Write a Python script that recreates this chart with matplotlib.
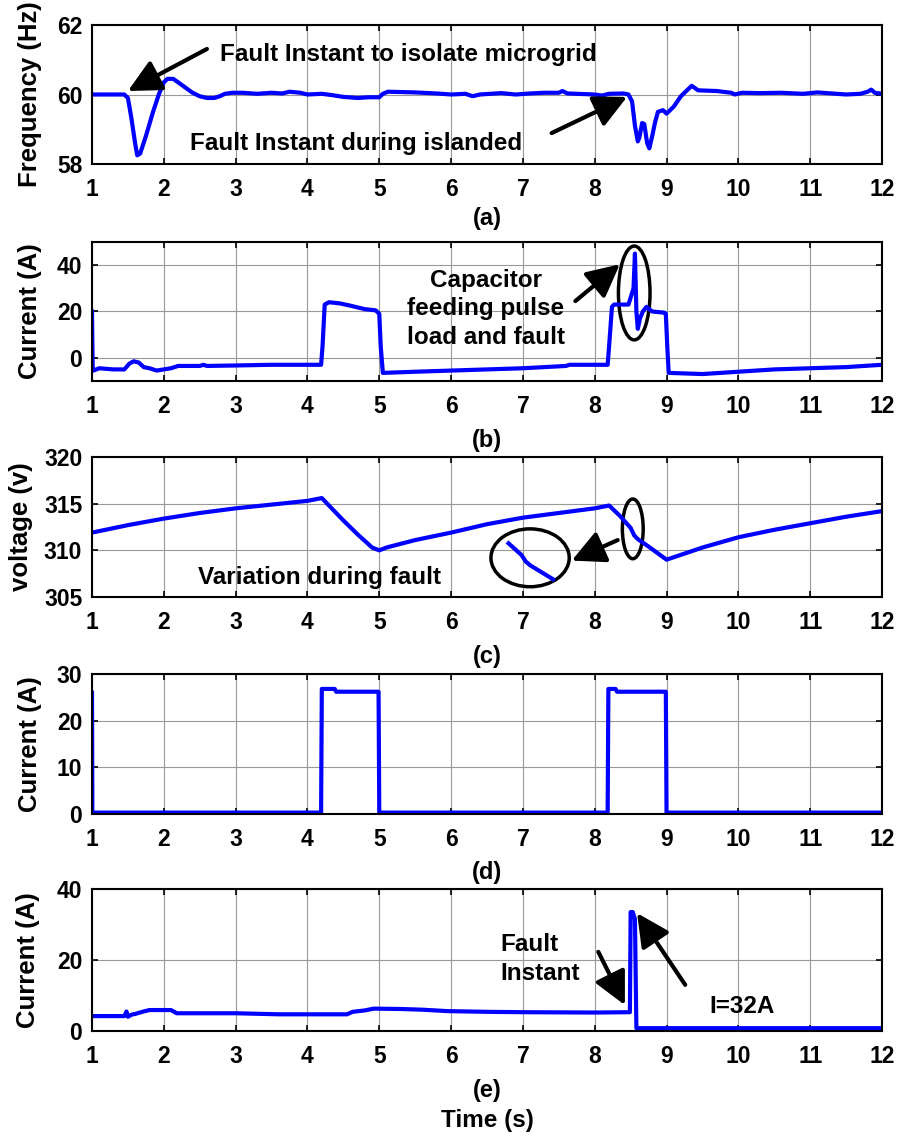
import numpy as np
import matplotlib
matplotlib.use('Agg')
import matplotlib.pyplot as plt
from matplotlib.patches import Ellipse

plt.rcParams['font.family'] = ['Liberation Sans', 'DejaVu Sans']
plt.rcParams['font.weight'] = 'bold'
plt.rcParams['axes.labelweight'] = 'bold'

# (a) frequency
freq_t = [1.0, 1.45, 1.5, 1.55, 1.6, 1.63, 1.67, 1.75, 1.85, 1.93, 2.0, 2.05, 2.13, 2.2, 2.3,
          2.4, 2.5, 2.6, 2.7, 2.78, 2.85, 2.95, 3.1, 3.3, 3.5, 3.65, 3.75, 3.9, 4.0, 4.2, 4.35,
          4.5, 4.7, 4.85, 5.0, 5.05, 5.12, 5.5, 5.8, 6.0, 6.2, 6.3, 6.4, 6.7, 6.9, 7.1, 7.3,
          7.5, 7.55, 7.62, 8.0, 8.1, 8.2, 8.4, 8.47, 8.52, 8.56, 8.6, 8.62, 8.66, 8.69, 8.73,
          8.76, 8.8, 8.84, 8.88, 8.95, 9.0, 9.1, 9.2, 9.3, 9.35, 9.44, 9.7, 9.9, 9.95, 10.05,
          10.3, 10.6, 10.9, 11.1, 11.3, 11.5, 11.7, 11.8, 11.85, 11.9, 12.0]
freq_v = [60.0, 60.0, 59.9, 59.3, 58.6, 58.25, 58.3, 58.8, 59.5, 60.0, 60.35, 60.45, 60.45,
          60.35, 60.2, 60.05, 59.95, 59.9, 59.9, 59.95, 60.02, 60.05, 60.05, 60.02, 60.05,
          60.03, 60.08, 60.05, 60.0, 60.02, 59.98, 59.93, 59.9, 59.92, 59.92, 60.02, 60.08,
          60.06, 60.03, 60.0, 60.02, 59.95, 60.0, 60.04, 60.0, 60.03, 60.05, 60.05, 60.1,
          60.03, 60.0, 59.97, 60.02, 60.03, 60.0, 59.8, 59.1, 58.65, 58.75, 59.18, 59.15,
          58.6, 58.45, 58.8, 59.2, 59.5, 59.55, 59.45, 59.65, 59.95, 60.15, 60.25, 60.12,
          60.1, 60.05, 60.0, 60.05, 60.04, 60.05, 60.02, 60.06, 60.03, 60.0, 60.02, 60.08,
          60.14, 60.05, 60.02]

# (b) capacitor current
cap_t = [1.0, 1.005, 1.01, 1.02, 1.1, 1.3, 1.45, 1.52, 1.58, 1.65, 1.72, 1.8, 1.9, 2.0, 2.1,
         2.2, 2.5, 2.55, 2.6, 3.0, 3.5, 4.0, 4.19, 4.21, 4.24, 4.3, 4.45, 4.6, 4.8, 4.95,
         5.0, 5.02, 5.05, 5.5, 6.0, 7.0, 7.6, 7.65, 8.0, 8.18, 8.2, 8.24, 8.27, 8.4, 8.47,
         8.5, 8.54, 8.56, 8.58, 8.6, 8.63, 8.67, 8.72, 8.76, 8.8, 8.97, 8.99, 9.01, 9.03,
         9.5, 10.0, 10.5, 11.0, 11.5, 12.0]
cap_v = [20, 6, -5, -5.5, -4.5, -5, -5, -2.5, -1.5, -2, -4, -4.5, -5.5, -5, -4.5, -3.5, -3.5,
         -3, -3.5, -3.3, -3, -3, -3, 5, 23, 24, 23.5, 22.5, 21, 20.5, 19, 5, -6.5, -6, -5.5,
         -4.5, -3.5, -3, -3, -3, 5, 22, 23, 23, 23, 26, 30, 45, 20, 12.5, 17, 20, 22, 21,
         20, 19.5, 19, 5, -6.5, -7, -6, -5, -4.5, -4, -3]

# (c) dc-link voltage
volt_t = [1.0, 1.5, 2.0, 2.5, 3.0, 3.5, 4.0, 4.2, 4.3, 4.5, 4.7, 4.9, 5.0, 5.1, 5.5, 6.0,
          6.5, 7.0, 7.5, 8.0, 8.2, 8.35, 8.5, 8.55, 8.6, 8.75, 9.0, 9.5, 10.0, 10.5, 11.0,
          11.5, 12.0]
volt_v = [311.9, 312.7, 313.4, 314.0, 314.5, 314.9, 315.3, 315.6, 314.8, 313.2, 311.7, 310.3,
          310.0, 310.3, 311.1, 311.9, 312.8, 313.5, 314.0, 314.5, 314.8, 313.7, 312.4, 311.6,
          311.2, 310.4, 309.0, 310.3, 311.4, 312.2, 312.9, 313.6, 314.2]
# zoomed piece shown inside the circle
zoom_t = [6.8, 6.98, 7.04, 7.1, 7.42]
zoom_v = [310.75, 309.5, 308.8, 308.4, 306.9]

# (d) pulse load current
pulse_t = [1.0, 1.005, 4.19, 4.2, 4.38, 4.4, 4.99, 5.0, 8.18, 8.19, 8.29, 8.31, 8.99, 9.0, 12.0]
pulse_v = [26, 0.3, 0.3, 26.8, 26.8, 26.2, 26.2, 0.3, 0.3, 26.8, 26.8, 26.2, 26.2, 0.3, 0.3]

# (e) fault current
fault_t = [1.0, 1.45, 1.48, 1.5, 1.55, 1.6, 1.7, 1.8, 2.1, 2.18, 3.0, 3.6, 4.0, 4.55, 4.63,
           4.8, 4.92, 5.3, 5.6, 5.95, 6.5, 7.0, 8.0, 8.49, 8.5, 8.53, 8.56, 8.58, 12.0]
fault_v = [4.2, 4.2, 5.5, 4.0, 4.6, 4.8, 5.4, 5.9, 5.9, 5.0, 5.0, 4.7, 4.7, 4.7, 5.4, 5.8,
           6.3, 6.2, 6.0, 5.6, 5.4, 5.3, 5.2, 5.3, 33.5, 33.5, 31.5, 0.8, 0.8]

W, H = 899, 1137
fig = plt.figure(figsize=(W / 100, H / 100), dpi=100)

# axes boxes in pixels: top, bottom
boxes = [(25, 164), (242, 381), (457, 597), (674, 814), (889, 1031)]
left, right = 92, 882
axes = []
for top, bot in boxes:
    ax = fig.add_axes([left / W, 1 - bot / H, (right - left) / W, (bot - top) / H])
    axes.append(ax)

blue = '#0000ff'
lw = 3.0
axes[0].plot(freq_t, freq_v, color=blue, lw=lw)
axes[1].plot(cap_t, cap_v, color=blue, lw=lw)
axes[2].plot(volt_t, volt_v, color=blue, lw=lw)
axes[2].plot(zoom_t, zoom_v, color=blue, lw=lw)
axes[3].plot(pulse_t, pulse_v, color=blue, lw=lw)
axes[4].plot(fault_t, fault_v, color=blue, lw=lw)

ylims = [(58, 62), (-10, 50), (305, 320), (0, 30), (0, 40)]
yticks = [[58, 60, 62], [0, 20, 40], [305, 310, 315, 320], [0, 10, 20, 30], [0, 20, 40]]
ylabels = ['Frequency (Hz)', 'Current (A)', 'voltage (v)', 'Current (A)', 'Current (A)']
labx = [-0.063, -0.063, -0.075, -0.063, -0.066]
panel = ['(a)', '(b)', '(c)', '(d)', '(e)']
panel_y = [218, 440, 657, 873, 1091]

for i, ax in enumerate(axes):
    ax.set_xlim(1, 12)
    ax.set_ylim(*ylims[i])
    ax.set_xticks(range(1, 13))
    ax.set_yticks(yticks[i])
    ax.grid(True, color='#999999', lw=0.8, ls='-')
    ax.set_axisbelow(True)
    ax.tick_params(direction='in', top=True, right=True, length=4, width=1.2,
                   labelsize=16.5)
    ax.tick_params(axis='x', pad=10)
    ax.tick_params(axis='y', pad=7)
    for s in ax.spines.values():
        s.set_linewidth(1.5)
    ax.set_ylabel(ylabels[i], fontsize=18.5)
    ax.yaxis.set_label_coords(labx[i], 0.5)
    fig.text(487 / W, 1 - panel_y[i] / H, panel[i], ha='center', va='center', fontsize=17)

fig.text(487 / W, 1 - 1121 / H, 'Time (s)', ha='center', va='center', fontsize=17.5)

arrow = dict(arrowstyle='-|>,head_length=1.0,head_width=0.5', color='k', lw=3,
             shrinkA=0, shrinkB=0, mutation_scale=20)
tfs = 17.5

# (a)
ax = axes[0]
ax.text(2.78, 61.15, 'Fault Instant to isolate microgrid', fontsize=tfs, ha='left', va='center')
ax.text(2.36, 58.58, 'Fault Instant during islanded', fontsize=tfs, ha='left', va='center')
ax.annotate('', xy=(1.5, 60.1), xytext=(2.6, 61.31), arrowprops=arrow)
ax.annotate('', xy=(8.45, 59.93), xytext=(7.4, 58.89), arrowprops=arrow)

# (b)
ax = axes[1]
ax.text(6.48, 21.1, 'Capacitor\nfeeding pulse\nload and fault', fontsize=tfs,
        ha='center', va='center', multialignment='center', linespacing=1.3)
ax.add_patch(Ellipse((8.55, 28), 0.44, 40.5, fill=False, ec='k', lw=2.5))
ax.annotate('', xy=(8.35, 40.4), xytext=(7.73, 24.5), arrowprops=arrow)

# (c)
ax = axes[2]
ax.text(2.48, 307.1, 'Variation during fault', fontsize=tfs, ha='left', va='center')
ax.add_patch(Ellipse((8.53, 312.3), 0.29, 6.4, fill=False, ec='k', lw=2.5))
ax.add_patch(Ellipse((7.1, 309.2), 1.09, 6.2, fill=False, ec='k', lw=2.5))
ax.annotate('', xy=(7.68, 308.9), xytext=(8.32, 311.1), arrowprops=arrow)

# (e)
ax = axes[4]
ax.text(6.69, 20.3, 'Fault\nInstant', fontsize=tfs, ha='left', va='center',
        multialignment='left', linespacing=1.3)
ax.text(9.6, 6.8, 'I=32A', fontsize=tfs, ha='left', va='center')
ax.annotate('', xy=(8.42, 7.3), xytext=(8.05, 22.3), arrowprops=arrow)
ax.annotate('', xy=(8.59, 33.2), xytext=(9.26, 13.0), arrowprops=arrow)

fig.savefig('out.png', dpi=100)
